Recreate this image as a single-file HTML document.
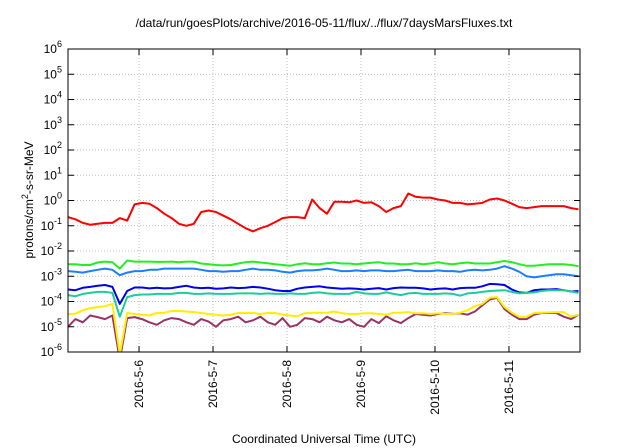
<!DOCTYPE html>
<html><head><meta charset="utf-8"><style>
body{margin:0;background:#fff;}
svg{display:block;font-family:"Liberation Sans",sans-serif;}
</style></head><body>
<svg id="chart" width="640" height="448" viewBox="0 0 640 448" xmlns="http://www.w3.org/2000/svg">
<text x="324" y="27" font-size="12" text-anchor="middle">/data/run/goesPlots/archive/2016-05-11/flux/../flux/7daysMarsFluxes.txt</text>
<text x="324" y="443" font-size="12" text-anchor="middle">Coordinated Universal Time (UTC)</text>
<text transform="translate(33,200) rotate(-90)" font-size="12" text-anchor="middle">protons/cm<tspan dy="-5" font-size="9">2</tspan><tspan dy="5">-s-sr-MeV</tspan></text>
<g id="grid"></g>
<g id="series"></g>
<g id="axes"></g>
</svg>
<script>
const dayLabels = ["2016-5-6","2016-5-7","2016-5-8","2016-5-9","2016-5-10","2016-5-11"];
const dayPositions = [1,2,3,4,5,6];
const yExponents = [-6,-5,-4,-3,-2,-1,0,1,2,3,4,5,6];
const tStart = 0.04, tStep = 0.1;
const red = [.22,.18,.13,.11,.12,.13,.13,.2,.16,.7,.8,.75,.5,.3,.2,.12,.1,.12,.35,.4,.35,.25,.18,.12,.08,.06,.08,.1,.14,.2,.22,.22,.2,1.1,.5,.3,.9,.9,.85,1.0,.8,.85,.6,.35,.5,.6,1.9,1.4,1.3,1.3,1.1,1.0,.8,.8,.7,.75,.8,1.1,1.2,1.0,.75,.55,.5,.55,.6,.6,.6,.6,.5,.45];
const green = [3,3,2.8,2.8,3.5,3.8,3.6,2.0,4.2,3.8,3.8,3.8,3.7,3.7,3.8,3.6,3.8,3.8,3.2,3.0,2.8,2.7,2.8,3.2,3.6,3.8,3.5,3.3,3.0,2.8,2.6,3.0,3.3,3.0,3.0,3.3,3.5,3.2,3.2,3.0,3.2,3.4,3.6,3.2,3.2,3.0,3.0,3.3,3.0,3.2,3.6,3.2,3.0,3.3,3.5,3.2,3.2,3.2,3.6,4.0,3.6,3.0,2.6,2.6,2.8,3.0,3.0,3.0,2.8,2.5].map(v=>v*1e-3);
const lightBlue = [1.6,1.5,1.4,1.6,1.8,2.0,1.8,1.1,1.4,1.6,1.6,1.8,1.8,2.0,2.0,2.0,2.0,2.0,1.8,1.6,1.6,1.5,1.6,1.6,1.8,2.0,1.8,1.8,1.7,1.5,1.4,1.6,1.7,1.7,1.8,2.0,1.8,1.6,1.6,1.7,1.6,1.7,1.7,1.6,1.6,1.7,1.8,1.6,1.6,1.6,1.7,1.6,1.6,1.5,1.7,1.8,1.7,1.8,2.0,2.5,2.0,1.5,1.0,0.9,1.0,1.1,1.2,1.2,1.1,1.0].map(v=>v*1e-3);
const blue = [3.0,2.8,3.5,3.8,4.2,4.5,3.8,0.8,2.6,3.6,3.6,3.3,3.5,3.3,3.4,3.8,4.2,3.6,3.4,3.5,3.2,3.3,3.6,3.4,3.5,3.8,3.6,3.2,2.8,2.6,2.6,3.2,3.6,3.8,4.0,3.6,3.4,3.2,3.3,3.2,3.0,3.2,3.4,3.0,3.4,3.6,3.5,3.5,3.3,3.0,3.2,3.3,3.0,3.4,3.5,3.5,4.0,5.0,4.8,4.5,3.0,2.3,2.2,2.8,3.0,3.0,3.1,2.8,2.5,2.6].map(v=>v*1e-4);
const teal = [1.8,1.6,2.0,2.2,2.4,2.4,2.2,0.25,1.5,1.8,1.9,1.9,2.0,2.0,2.0,2.2,2.2,2.0,2.0,2.1,2.0,2.0,2.0,2.1,2.1,2.1,2.0,2.1,2.0,2.0,2.1,2.0,2.0,2.2,2.3,2.1,2.0,2.0,2.0,2.4,2.1,2.0,2.0,2.3,2.0,1.8,2.1,2.2,2.0,2.0,2.0,2.1,2.0,1.7,2.1,2.2,2.4,2.6,2.7,2.8,2.4,2.1,2.2,2.3,2.6,2.8,2.8,2.8,2.5,2.2].map(v=>v*1e-4);
const yellow = [3.2,3.3,4.5,5.5,6.0,6.5,8.0,0.08,3.5,3.2,3.0,2.8,3.5,3.6,4.2,4.2,4.0,3.8,3.5,3.2,3.0,2.8,3.0,3.5,3.5,3.5,3.2,3.5,3.5,3.0,2.8,2.6,3.4,3.6,3.6,3.6,4.0,3.4,3.2,3.2,3.4,3.4,3.2,3.0,3.6,3.6,3.8,3.4,3.4,3.2,3.4,3.2,3.3,3.6,4.5,6.5,8.0,14,15,6.0,3.6,2.5,2.5,3.5,3.6,3.7,3.8,3.8,2.5,3.0].map(v=>v*1e-5);
const purple = [1.0,2.0,1.5,2.8,2.4,2.0,2.8,0.05,2.2,2.4,2.0,1.5,1.2,1.8,2.2,2.0,1.5,1.2,2.0,1.6,1.0,1.8,2.0,2.5,1.5,1.8,2.5,1.5,1.2,2.2,1.0,1.2,2.2,2.0,1.5,2.5,1.8,1.5,2.0,1.2,1.0,2.0,1.4,2.6,1.8,1.4,2.2,3.2,3.0,2.8,3.2,3.4,3.3,3.4,3.0,4.0,7.0,12,14,5.0,3.0,2.0,2.0,3.0,3.5,3.5,3.5,2.5,2.0,3.0].map(v=>v*1e-5);

const L=68,R=580,T=49,B=352;
const xMin=0.04,xMax=6.96;
function xs(t){return L+(t-xMin)/(xMax-xMin)*(R-L);}
function ys(v){const lg=Math.log10(v);return T+(6-lg)/12*(B-T);}
const NS="http://www.w3.org/2000/svg";
function mk(tag,parent,attrs){const e=document.createElementNS(NS,tag);for(const k in attrs)e.setAttribute(k,attrs[k]);parent.appendChild(e);return e;}
const grid=document.getElementById('grid'),axes=document.getElementById('axes'),ser=document.getElementById('series');

yExponents.forEach(ex=>{
  const y=ys(Math.pow(10,ex));
  if(ex>-6&&ex<6){const g=mk('line',grid,{x1:L,x2:R,y1:y,y2:y,stroke:'#aaa','stroke-width':0.8,'stroke-dasharray':'1,2'});
  
  }
  const t1=mk('line',axes,{x1:L,x2:L+6,y1:y,y2:y,stroke:'#000'});
  
  
  const t2=mk('line',axes,{x1:R-6,x2:R,y1:y,y2:y,stroke:'#000'});
  
  
  const tx=mk('text',axes,{x:L-6,y:y+4,'font-size':12,'text-anchor':'end'});
  
  
  tx.innerHTML='10<tspan dy="-6" font-size="9">'+ex+'</tspan>';
});
dayPositions.forEach((d,i)=>{
  const x=xs(d);
  const g=mk('line',grid,{x1:x,x2:x,y1:T,y2:B,stroke:'#aaa','stroke-width':0.8,'stroke-dasharray':'1,2'});
  
  
  const t1=mk('line',axes,{x1:x,x2:x,y1:B-6,y2:B,stroke:'#000'});
  
  
  const t2=mk('line',axes,{x1:x,x2:x,y1:T,y2:T+6,stroke:'#000'});
  
  
  const tx=mk('text',axes,{transform:'translate('+(x+4)+','+(B+8)+') rotate(-90)','font-size':12,'text-anchor':'end'});
  
  
  tx.textContent=dayLabels[i];
});
const frame=mk('rect',axes,{x:L,y:T,width:R-L,height:B-T,fill:'none',stroke:'#000','stroke-width':1});



const clip=mk('clipPath',ser,{id:'pc'});mk('rect',clip,{x:L,y:T,width:R-L,height:B-T});
const seriesList=[[red,'#ff0000','red-series'],[green,'#22ee22','green-series'],[lightBlue,'#1a7fff','light-blue-series'],[blue,'#0000ee','blue-series'],[teal,'#1ecc99','teal-series'],[purple,'#993366','purple-series'],[yellow,'#ffee00','yellow-series']];
seriesList.forEach(([arr,col,name])=>{
  const pts=arr.map((v,i)=>xs(tStart+i*tStep).toFixed(1)+','+ys(v).toFixed(1)).join(' ');
  const p=mk('polyline',ser,{points:pts,fill:'none',stroke:col,'stroke-width':2,'stroke-linejoin':'round','clip-path':'url(#pc)'});
  
  
});
</script>
</body></html>
